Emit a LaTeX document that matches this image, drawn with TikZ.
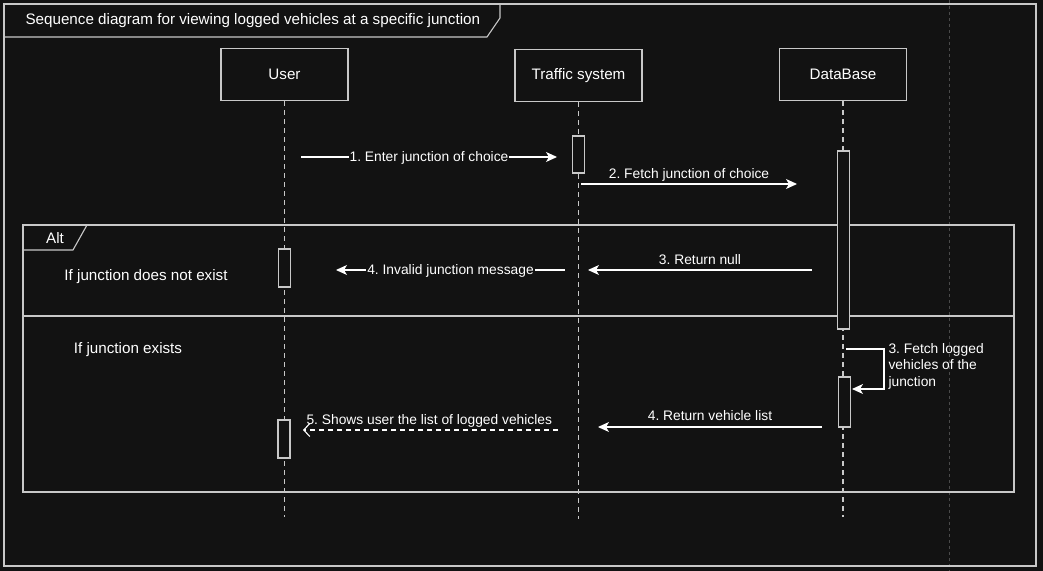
\documentclass[tikz,border=0pt]{standalone}
\usepackage{fontspec}
\setmainfont{Liberation Sans}
\usetikzlibrary{positioning,calc,arrows.meta}
\definecolor{bgdark}{HTML}{121212}
\definecolor{linegray}{HTML}{C8C8C8}
\definecolor{pagegray}{HTML}{4A4A4A}
\frenchspacing

\begin{document}
\begin{tikzpicture}[x=0.5pt,y=-0.5pt,line width=0.55pt,
    every node/.style={text=white,font=\fontsize{6.9}{8.2}\selectfont},
    big/.style={font=\fontsize{7.6}{9}\selectfont},
    head/.style={draw=linegray,fill=bgdark,big,minimum width=63.5pt,minimum height=26pt},
    life/.style={draw=linegray,dash pattern=on 2.5pt off 2pt},
    act/.style={draw=linegray,fill=bgdark,minimum width=6pt,inner sep=0pt},
    frame/.style={draw=linegray},
    msg/.style={draw=white,-{Stealth[length=5.5pt,width=5pt,inset=1.5pt]}},
    reply/.style={draw=white,dash pattern=on 2.5pt off 2pt,-{Straight Barb[length=3pt,width=6.5pt]}},
    onlabel/.style={fill=bgdark,inner sep=0.5pt,yshift=-0.5pt}]
    % background and page
    \fill[bgdark] (0,0) rectangle (1043,571);
    \useasboundingbox (0,0) rectangle (1043,571);
    \draw[pagegray,line width=0.4pt,dash pattern=on 1.5pt off 1.5pt] (949,0) -- (949,571);
    \draw[frame] (4,4) rectangle (1036,566);
    % title tab
    \draw[frame] (4,37) -- (487,37) -- (500,18) -- (500,4);
    \node[anchor=west,big,inner sep=0pt] (title) at (25,21)
        {Sequence diagram for viewing logged vehicles at a specific junction};
    % Alt frame
    \draw[frame] (23,225) rectangle (1014,492);
    \draw[frame] (23,250) -- (73,250) -- (87,225);
    \draw[frame] (23,316) -- (1014,316);
    \node[big] (alt) at (55,238.5) {Alt};
    \node[big] (noexist) at (146,276.5) {If junction does not exist};
    \node[big] (exists) at (128,349.5) {If junction exists};
    % lifeline heads
    \node[head] (user) at (284.5,74.5) {\raisebox{-0.6pt}{User}};
    \node[head] (traffic) at (578.5,75.5) {\raisebox{-0.6pt}{Traffic system}};
    \node[head] (db) at (843,74.5) {\raisebox{-0.6pt}{DataBase}};
    \coordinate (userEnd) at (284.5,517);
    \coordinate (trafficEnd) at (578.5,519);
    \coordinate (dbEnd) at (843,517);
    \draw[life] (user) -- (userEnd);
    \draw[life] (traffic) -- (trafficEnd);
    \draw[life] (db) -- (dbEnd);
    % activations
    \node[act,minimum height=18.5pt] (actTs) at (578.5,154.5) {};
    \node[act,minimum height=89pt] (actDb) at (843.5,240) {};
    \node[act,minimum height=19pt] (actUserA) at (284.5,268) {};
    \node[act,minimum height=25pt] (actDbB) at (844.5,402) {};
    \node[act,minimum height=19pt] (actUserB) at (284,439) {};
    % messages
    \coordinate (m1s) at (301,157);
    \coordinate (m1e) at (557,157);
    \draw[msg] (m1s) -- node[onlabel] (m1) {1. Enter junction of choice} (m1e);
    \coordinate (m2s) at (581,184);
    \coordinate (m2e) at (797,184);
    \draw[msg] (m2s) -- node[above=-2.5pt] (m2) {2. Fetch junction of choice} (m2e);
    \coordinate (m3s) at (812,270);
    \coordinate (m3e) at (588,270);
    \draw[msg] (m3s) -- node[above=-1pt] (m3) {3. Return null} (m3e);
    \coordinate (m4s) at (565,270);
    \coordinate (m4e) at (336,270);
    \draw[msg] (m4s) -- node[onlabel] (m4) {4. Invalid junction message} (m4e);
    % self call
    \coordinate (s1) at (846,349);
    \coordinate (s2) at (884,349);
    \coordinate (s3) at (884,389);
    \coordinate (s4) at (852,389);
    \draw[msg] (s1) -- (s2) -- (s3) -- (s4);
    \node[anchor=north west,align=left,inner sep=0pt] (self) at (888,343)
        {3. Fetch logged\\vehicles of the\\junction};
    \coordinate (m5s) at (822,427);
    \coordinate (m5e) at (598,427);
    \draw[msg] (m5s) -- node[above=-0.5pt] (m5) {4. Return vehicle list} (m5e);
    \coordinate (m6s) at (558,430);
    \coordinate (m6e) at (303,430);
    \draw[reply] (m6s) -- (m6e);
    \node[anchor=south west,inner sep=0pt] (m6) at (306,427.5)
        {5. Shows user the list of logged vehicles};
\end{tikzpicture}
\end{document}
